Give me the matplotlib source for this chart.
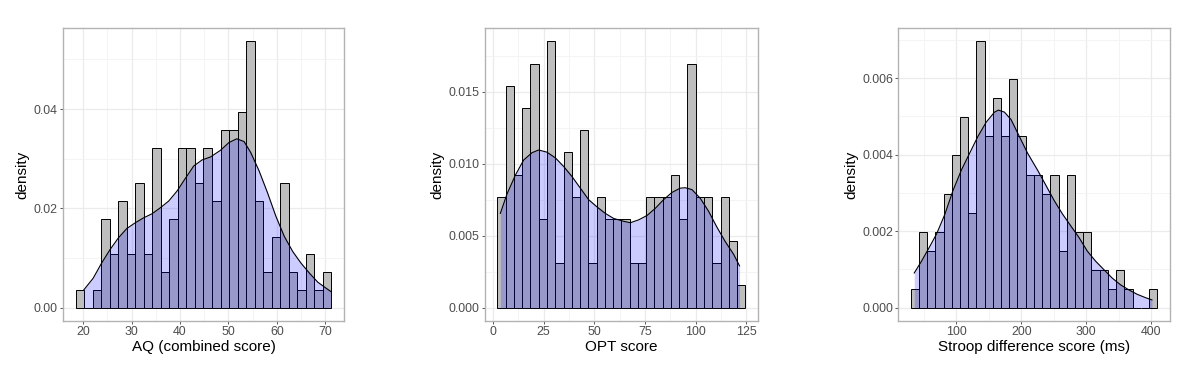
import matplotlib.pyplot as plt
import numpy as np

plt.rcParams["font.family"] = ["Liberation Sans", "DejaVu Sans"]

# AQ (combined score): 30 bins, counts
aq_counts = [1, 0, 1, 5, 3, 6, 3, 7, 3, 9, 2, 5, 9, 9, 7,
             9, 6, 10, 10, 11, 15, 6, 2, 4, 7, 2, 1, 3, 1, 2]
aq_bin_start = 18.48
aq_bin_width = 1.759
aq_kde_x = [20.14, 22.08, 23.81, 25.54, 27.27, 29.00, 30.73, 32.47, 34.20, 35.93,
            37.66, 39.39, 41.12, 42.85, 44.58, 46.32, 48.39, 50.12, 51.72, 53.24,
            54.63, 56.36, 58.09, 59.82, 61.55, 63.28, 65.01, 66.75, 68.48, 70.21, 71.20]
aq_kde_y = [0.00358, 0.00594, 0.00897, 0.01167, 0.01403, 0.01592, 0.01707, 0.01808,
            0.01889, 0.02010, 0.02145, 0.02347, 0.02604, 0.02853, 0.02975, 0.03035,
            0.03170, 0.03325, 0.03400, 0.03346, 0.03123, 0.02752, 0.02314, 0.01841,
            0.01437, 0.01133, 0.00897, 0.00695, 0.00513, 0.00391, 0.00324]

# OPT score
opt_counts = [5, 10, 6, 9, 11, 4, 12, 2, 7, 5, 8, 2, 5, 4, 4,
              4, 2, 2, 5, 5, 5, 6, 4, 11, 5, 5, 2, 5, 3, 1]
opt_bin_start = 2.14
opt_bin_width = 4.08
opt_kde_x = [3.6, 6.9, 11.0, 15.1, 19.2, 22.5, 26.6, 30.8, 34.9, 39.0, 43.1, 47.2,
             51.3, 55.4, 59.5, 64.5, 67.8, 71.9, 76.0, 80.1, 84.2, 88.3, 92.4, 94.9,
             98.2, 102.3, 106.4, 110.5, 114.6, 118.8, 121.7]
opt_kde_y = [0.00655, 0.0079, 0.0092, 0.01025, 0.01076, 0.01095, 0.0108, 0.0104,
             0.0098, 0.0091, 0.0083, 0.0075, 0.0070, 0.00655, 0.0062, 0.0060, 0.0059,
             0.0061, 0.0064, 0.0069, 0.0075, 0.0080, 0.0083, 0.00833, 0.0082, 0.0076,
             0.0067, 0.0056, 0.0046, 0.0037, 0.0029]

# Stroop difference score (ms)
stroop_counts = [1, 4, 3, 4, 6, 8, 10, 5, 14, 9, 11, 9, 12, 9, 7,
                 7, 6, 7, 3, 7, 4, 4, 2, 2, 1, 2, 1, 0, 0, 1]
stroop_bin_start = 29.6
stroop_bin_width = 12.65
stroop_kde_x = [35.2, 46.4, 56.6, 69.4, 82.1, 94.9, 107.7, 120.4, 133.2, 145.9, 158.7,
                164.8, 174.0, 184.2, 196.9, 209.7, 225.0, 237.8, 250.5, 263.3, 276.0,
                288.8, 301.5, 314.3, 327.0, 339.8, 352.6, 365.3, 378.1, 390.8, 401.0]
stroop_kde_y = [0.000907, 0.001216, 0.001524, 0.001921, 0.002432, 0.003066, 0.003595,
                0.004035, 0.004476, 0.004846, 0.005110, 0.005163, 0.005110, 0.004916,
                0.004476, 0.004035, 0.003595, 0.003198, 0.002802, 0.002449, 0.002141,
                0.001833, 0.001480, 0.001216, 0.000996, 0.000775, 0.000599, 0.000467,
                0.000352, 0.000264, 0.000203]

W, H = 1200, 373


def px_rect(left, right, top, bottom):
    return [left / W, 1 - bottom / H, (right - left) / W, (bottom - top) / H]


def draw_panel(ax, counts, start, width, kde_x, kde_y, xticks, yticks, yfmt, xlabel):
    counts = np.asarray(counts, dtype=float)
    edges = start + width * np.arange(len(counts) + 1)
    heights = counts / (counts.sum() * width)

    ax.bar(edges[:-1], heights, width=width, align="edge", color="#bebebe",
           edgecolor="black", linewidth=0.7, zorder=2)
    ax.fill_between(kde_x, kde_y, 0, color="blue", alpha=0.2, linewidth=0, zorder=3)
    ax.plot(kde_x, kde_y, color="black", lw=0.8, zorder=4)

    ax.set_xticks(xticks)
    ax.set_yticks(yticks)
    ax.set_yticklabels([yfmt.format(v) for v in yticks])
    xt = np.asarray(xticks, dtype=float)
    yt = np.asarray(yticks, dtype=float)
    dx, dy = xt[1] - xt[0], yt[1] - yt[0]
    ax.set_xticks(np.arange(xt[0] - dx / 2, xt[-1] + dx, dx), minor=True)
    ax.set_yticks(np.arange(yt[0] - dy / 2, yt[-1] + dy, dy), minor=True)

    # ggplot-style 5% expansion around the bars
    xr = edges[-1] - edges[0]
    ax.set_xlim(edges[0] - 0.05 * xr, edges[-1] + 0.05 * xr)
    top = heights.max()
    ax.set_ylim(-0.05 * top, 1.05 * top)

    ax.grid(which="major", color="#ebebeb", lw=0.9, zorder=0)
    ax.grid(which="minor", color="#f3f3f3", lw=0.6, zorder=0)
    ax.set_axisbelow(True)
    ax.tick_params(which="minor", length=0)
    ax.tick_params(which="major", length=2.2, width=0.7, color="#555555",
                   labelcolor="#4d4d4d", labelsize=8.9, pad=1.5)
    for spine in ax.spines.values():
        spine.set_color("#b3b3b3")
        spine.set_linewidth(1.0)
    ax.set_xlabel(xlabel, fontsize=11, labelpad=1.5)
    ax.set_ylabel("density", fontsize=11, labelpad=3)


fig = plt.figure(figsize=(12, 3.73), dpi=100)

ax1 = fig.add_axes(px_rect(63, 344, 28, 321))
draw_panel(ax1, aq_counts, aq_bin_start, aq_bin_width, aq_kde_x, aq_kde_y,
           [20, 30, 40, 50, 60, 70], [0.0, 0.02, 0.04], "{:.2f}", "AQ (combined score)")

ax2 = fig.add_axes(px_rect(485, 757.7, 28, 321))
draw_panel(ax2, opt_counts, opt_bin_start, opt_bin_width, opt_kde_x, opt_kde_y,
           [0, 25, 50, 75, 100, 125], [0.0, 0.005, 0.010, 0.015], "{:.3f}", "OPT score")

ax3 = fig.add_axes(px_rect(898.3, 1169.5, 28, 321))
draw_panel(ax3, stroop_counts, stroop_bin_start, stroop_bin_width, stroop_kde_x,
           stroop_kde_y, [100, 200, 300, 400], [0.0, 0.002, 0.004, 0.006], "{:.3f}",
           "Stroop difference score (ms)")

fig.savefig("out.png", dpi=100)
